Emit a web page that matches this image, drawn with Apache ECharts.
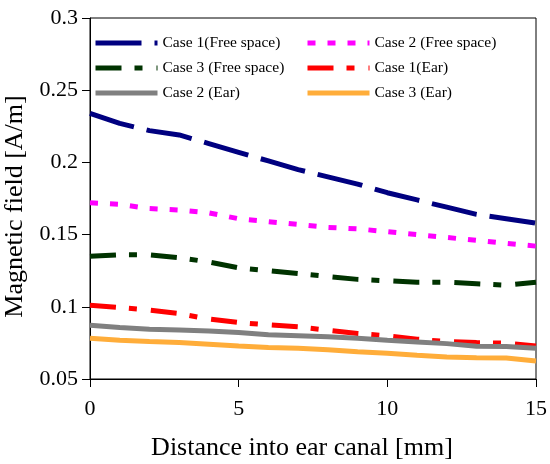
<!DOCTYPE html>
<html>
<head>
<meta charset="utf-8">
<script src="https://cdn.jsdelivr.net/npm/echarts@6/dist/echarts.min.js"></script>
<style>
html,body{margin:0;padding:0;background:#fff;}
#chart{width:550px;height:464px;}
</style>
</head>
<body>
<div id="chart"></div>
<script>
// distance into ear canal, mm
var distance = [0,1,2,3,4,5,6,7,8,9,10,11,12,13,14,15];
var yTicks = [0.05,0.1,0.15,0.2,0.25,0.3];

var case1Free = [0.234,0.227,0.222,0.219,0.213,0.207,0.201,0.195,0.190,0.185,0.179,0.174,0.169,0.164,0.161,0.158];
var case2Free = [0.172,0.171,0.168,0.167,0.165,0.161,0.159,0.157,0.155,0.154,0.152,0.150,0.148,0.146,0.144,0.142];
var case3Free = [0.135,0.136,0.136,0.134,0.131,0.127,0.125,0.123,0.121,0.119,0.118,0.117,0.117,0.116,0.115,0.117];
var case1Ear = [0.101,0.0995,0.0977,0.0953,0.0915,0.0891,0.0875,0.0861,0.0838,0.0815,0.0799,0.0776,0.0759,0.0752,0.0748,0.0729];
var case2Ear = [0.0873,0.0856,0.0844,0.084,0.0833,0.0822,0.0806,0.0799,0.0792,0.0783,0.0769,0.0757,0.0745,0.0727,0.0725,0.0713];
var case3Ear = [0.0783,0.0769,0.076,0.0752,0.0741,0.0729,0.0718,0.0713,0.0703,0.0689,0.0678,0.0664,0.0653,0.0648,0.0646,0.0625];

var names = ['Case 1(Free space)','Case 2 (Free space)','Case 3 (Free space)','Case 1(Ear)','Case 2 (Ear)','Case 3 (Ear)'];
var font = 'Liberation Serif';

function pairs(vals){
	var out = [];
	for (var i = 0; i < vals.length; i++) out.push([distance[i], vals[i]]);
	return out;
}
function mkSeries(name, vals, color, width, dash){
	return {
		name: name,
		type: 'line',
		data: pairs(vals),
		symbol: 'none',
		lineStyle: {color: color, width: width, type: dash, cap: 'butt'},
		itemStyle: {color: color}
	};
}
function mkLegend(items, left){
	return {
		data: items,
		orient: 'vertical', left: left, top: 30,
		itemWidth: 62, itemHeight: 14, itemGap: 9,
		itemStyle: {opacity: 0},
		lineStyle: {width: 5},
		textStyle: {fontFamily: font, fontSize: 15.5, color: '#000'}
	};
}

var chart = echarts.init(document.getElementById('chart'));
var option = {
	animation: false,
	backgroundColor: '#fff',
	grid: {left: 90, right: 14, top: 18, bottom: 85, show: true, borderColor: '#000', borderWidth: 1,
		outerBoundsMode: 'none', containLabel: false},
	legend: [
		mkLegend([names[0], names[2], names[4]], 88),
		mkLegend([names[1], names[3], names[5]], 300)
	],
	xAxis: {
		type: 'value', min: 0, max: 15, interval: 5,
		name: 'Distance into ear canal [mm]', nameLocation: 'middle', nameGap: 56,
		nameTextStyle: {fontFamily: font, fontSize: 26, color: '#000', padding: [0, 22, 0, 0]},
		axisLine: {lineStyle: {color: '#000', width: 1}},
		axisTick: {show: true, length: 8, lineStyle: {color: '#000'}},
		axisLabel: {fontFamily: font, fontSize: 22, color: '#000', margin: 19},
		splitLine: {show: false}
	},
	yAxis: {
		type: 'value', min: 0.05, max: 0.3, interval: 0.05,
		name: 'Magnetic field [A/m]', nameLocation: 'middle', nameGap: 52,
		nameTextStyle: {fontFamily: font, fontSize: 26, color: '#000', padding: [0, 16, 0, 0]},
		axisLine: {show: true, lineStyle: {color: '#000', width: 1}},
		axisTick: {show: true, length: 8, lineStyle: {color: '#000'}},
		axisLabel: {fontFamily: font, fontSize: 22, color: '#000', margin: 12,
			formatter: function(v){ return String(+v.toFixed(2)); }},
		splitLine: {show: false}
	},
	series: [
		mkSeries(names[0], case1Free, '#000080', 5, [46,13]),
		mkSeries(names[1], case2Free, '#ff00ff', 5, [8,12]),
		mkSeries(names[2], case3Free, '#003300', 5, [26,13,8,14]),
		mkSeries(names[3], case1Ear, '#ff0000', 5, [26,13,8,14]),
		mkSeries(names[4], case2Ear, '#808080', 5, 'solid'),
		mkSeries(names[5], case3Ear, '#ffad3a', 5, 'solid')
	]
};
chart.setOption(option);
</script>
</body>
</html>
